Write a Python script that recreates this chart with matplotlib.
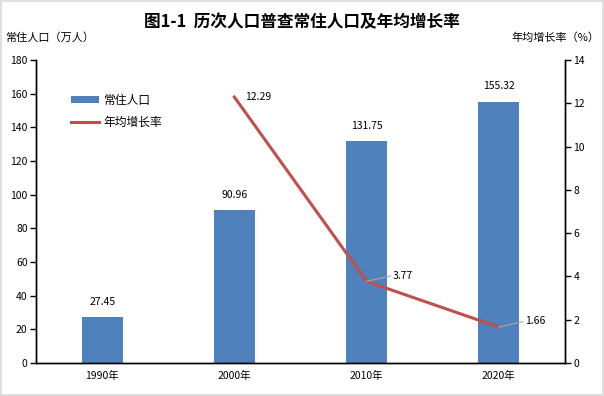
import matplotlib
matplotlib.use("Agg")
import matplotlib.pyplot as plt
import numpy as np

plt.rcParams['font.family'] = ['Noto Sans CJK SC', 'DejaVu Sans']

# data
years = ["1990年", "2000年", "2010年", "2020年"]
population = [27.45, 90.96, 131.75, 155.32]
growth_years = ["2000年", "2010年", "2020年"]
growth_rate = [12.29, 3.77, 1.66]

bar_color = "#4F81BD"
line_color = "#C0504D"

fig = plt.figure(figsize=(6.04, 3.96), dpi=100)
ax = fig.add_axes([0.0596, 0.0833, 0.8758, 0.7652])
ax2 = ax.twinx()

x = np.arange(len(years))
bars = ax.bar(x, population, width=0.31, color=bar_color, label="常住人口", zorder=2)
gx = [years.index(y) for y in growth_years]
line, = ax2.plot(gx, growth_rate, color=line_color, lw=2.2, label="年均增长率", zorder=3)

ax.set_xlim(-0.5, len(years) - 0.5)
ax.set_ylim(0, 180)
ax.set_yticks(range(0, 181, 20))
ax2.set_ylim(0, 14)
ax2.set_yticks(range(0, 15, 2))
ax.set_xticks(x)
ax.set_xticklabels(years)

for a in (ax, ax2):
    a.spines["top"].set_visible(False)
    for s in a.spines.values():
        s.set_linewidth(1.0)
    a.tick_params(labelsize=7.5, length=4, width=1, pad=2)
ax.tick_params(axis="x", length=0, pad=6)

# bar labels
for xi, v in zip(x, population):
    ax.text(xi, v + 6, f"{v:.2f}", ha="center", va="bottom", fontsize=7.5)

# line labels
ax2.text(gx[0] + 0.08, growth_rate[0], f"{growth_rate[0]:.2f}", ha="left", va="center", fontsize=7.5)
for xi, v in zip(gx[1:], growth_rate[1:]):
    ax2.plot([xi, xi + 0.18], [v, v + 0.25], color="#A6A6A6", lw=0.8, zorder=4)
    ax2.text(xi + 0.2, v + 0.27, f"{v:.2f}", ha="left", va="center", fontsize=7.5)

fig.text(0.5, 0.945, "图1-1  历次人口普查常住人口及年均增长率", ha="center", va="center",
         fontsize=12, fontweight="bold")
fig.text(0.008, 0.905, "常住人口（万人）", ha="left", va="center", fontsize=8)
fig.text(0.993, 0.905, "年均增长率（%）", ha="right", va="center", fontsize=8)

fig.legend(handles=[bars, line], loc="upper left", bbox_to_anchor=(0.11, 0.775),
           frameon=False, fontsize=8.5, handlelength=2.4, handleheight=0.6,
           handletextpad=0.35, labelspacing=0.75, borderaxespad=0)

# light grey frame around figure
fig.patches.append(plt.Rectangle((0.002, 0.003), 0.996, 0.994, transform=fig.transFigure,
                                 fill=False, edgecolor="#D9D9D9", lw=1.2))

fig.savefig("out.png", dpi=100)
